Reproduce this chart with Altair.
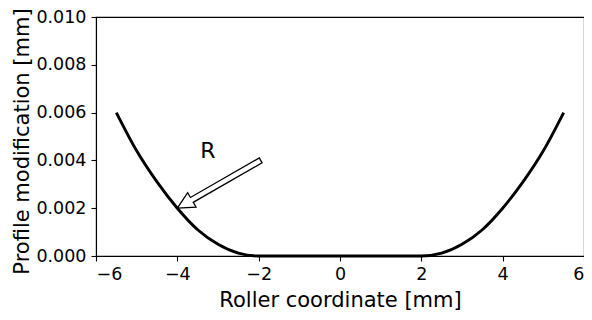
import altair as alt
import pandas as pd
import numpy as np

# Curve
x_vals = [-5.5, -5.0, -4.5, -4.0, -3.5, -3.0, -2.5, -2.0, 2.0, 2.5, 3.0, 3.5, 4.0, 4.5, 5.0, 5.5]
y_vals = [0.0060, 0.0044, 0.0031, 0.0020, 0.0011, 0.00049, 0.00012, 0.0, 0.0,
          0.00012, 0.00049, 0.0011, 0.0020, 0.0031, 0.0044, 0.0060]

x_ticks = [-6, -4, -2, 0, 2, 4, 6]
y_ticks = [0.000, 0.002, 0.004, 0.006, 0.008, 0.010]

# Annotation: arrow from tail to tip, label R
arrow_tip = (-4.0, 0.0020)
arrow_tail = (-1.95, 0.0040)
label_pos = (-3.25, 0.00438)
label_text = "R"

W, H = 488, 239
XD, YD = (-6, 6), (0, 0.010)
sx = W / (XD[1] - XD[0])
sy = H / (YD[1] - YD[0])

# Build hollow arrow outline (matplotlib-style: width 4pt, head 12pt)
shaft_w, head_w, head_l = 5.6, 16.7, 16.7
tip = np.array([arrow_tip[0] * sx, arrow_tip[1] * sy])
tail = np.array([arrow_tail[0] * sx, arrow_tail[1] * sy])
u = (tail - tip) / np.linalg.norm(tail - tip)
n = np.array([-u[1], u[0]])
neck = tip + head_l * u
poly = [tip,
        neck + head_w / 2 * n,
        neck + shaft_w / 2 * n,
        tail + shaft_w / 2 * n,
        tail - shaft_w / 2 * n,
        neck - shaft_w / 2 * n,
        neck - head_w / 2 * n,
        tip]
arrow_df = pd.DataFrame({
    "x": [p[0] / sx for p in poly],
    "y": [p[1] / sy for p in poly],
    "o": list(range(len(poly))),
})

curve_df = pd.DataFrame({"x": x_vals, "y": y_vals})
label_df = pd.DataFrame({"x": [label_pos[0]], "y": [label_pos[1]], "t": [label_text]})

xscale = alt.Scale(domain=list(XD), nice=False, zero=False)
yscale = alt.Scale(domain=list(YD), nice=False)

xaxis = alt.Axis(values=x_ticks, format="d", title="Roller coordinate [mm]", grid=False,
                 tickSize=5, labelPadding=4, titlePadding=7)
yaxis = alt.Axis(values=y_ticks, format=".3f", title="Profile modification [mm]", grid=False,
                 tickSize=5, labelPadding=5, titlePadding=3, titleY=124)

curve = alt.Chart(curve_df).mark_line(color="black", strokeWidth=2.9, interpolate="monotone").encode(
    x=alt.X("x:Q", scale=xscale, axis=xaxis),
    y=alt.Y("y:Q", scale=yscale, axis=yaxis),
)

arrow = alt.Chart(arrow_df).mark_line(color="black", strokeWidth=1.3, strokeJoin="miter").encode(
    x=alt.X("x:Q", scale=xscale),
    y=alt.Y("y:Q", scale=yscale),
    order="o:Q",
)

label = alt.Chart(label_df).mark_text(fontSize=22, font="DejaVu Sans", color="black").encode(
    x=alt.X("x:Q", scale=xscale),
    y=alt.Y("y:Q", scale=yscale),
    text="t:N",
)

chart = alt.layer(curve, arrow, label).properties(
    width=W, height=H,
    autosize=alt.AutoSizeParams(type="none"),
    padding={"left": 88, "top": 9, "right": 0, "bottom": 56},
).configure_view(stroke="black", strokeWidth=1.1).configure_axis(
    labelFont="DejaVu Sans", titleFont="DejaVu Sans",
    labelFontSize=17.5, titleFontSize=21, titleFontWeight="normal",
    labelColor="black", titleColor="black", domainColor="black", tickColor="black",
    domainWidth=1.1, tickWidth=1.1,
)

chart.save("out.html", embed_options={"renderer": "svg", "actions": False})
